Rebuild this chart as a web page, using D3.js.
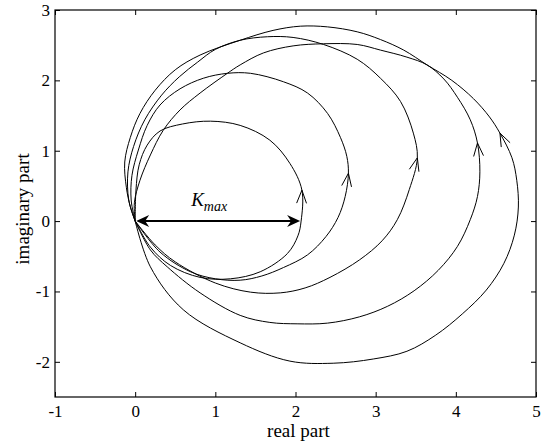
<!DOCTYPE html>
<html>
<head>
<meta charset="utf-8">
<style>
body { margin: 0; background: #fff; }
svg { font-family: "Liberation Serif", "Times New Roman", serif; }
.curves path { fill: none; stroke: #000; stroke-width: 1; }
.tick line { stroke: #000; }
.tick text { font-family: "Liberation Serif", "Times New Roman", serif; font-size: 17px; fill: #000; }
</style>
</head>
<body>
<svg width="544" height="444"></svg>
<script src="https://cdn.jsdelivr.net/npm/d3@7"></script>
<script>
// loci in the complex plane, [real, imaginary]
var curveA = [[0,0],[0.19,-0.37],[0.44,-0.63],[0.81,-0.80],[1.19,-0.82],[1.56,-0.72],[1.90,-0.46],[2.03,-0.21],
  [2.07,0],[2.08,0.44],[1.93,0.82],[1.68,1.15],[1.31,1.36],[0.94,1.42],[0.59,1.38],[0.31,1.28],[0.15,1.08],
  [0.05,0.80],[0.01,0.44],[0,0]];
var curveB = [[0,0],[0.31,-0.44],[0.69,-0.72],[1.00,-0.82],[1.31,-0.84],[1.58,-0.78],[1.85,-0.66],[2.15,-0.48],
  [2.38,-0.22],[2.53,0.05],[2.62,0.35],[2.66,0.68],[2.64,0.92],[2.56,1.19],[2.40,1.53],[2.15,1.82],[1.85,1.98],
  [1.44,2.10],[1.15,2.10],[0.85,2.03],[0.56,1.88],[0.31,1.65],[0.15,1.36],[0.04,1.01],[-0.04,0.65],[-0.05,0.30],[0,0]];
var curveC = [[0,0],[0.25,-0.34],[0.50,-0.58],[1.00,-0.88],[1.44,-1.01],[1.81,-1.02],[2.12,-0.95],[2.43,-0.80],
  [2.80,-0.55],[3.08,-0.28],[3.27,0.02],[3.42,0.45],[3.52,0.90],[3.47,1.25],[3.31,1.70],[3.06,2.03],[2.77,2.30],
  [2.35,2.51],[1.97,2.61],[1.65,2.62],[1.31,2.57],[1.00,2.44],[0.78,2.26],[0.55,2.05],[0.33,1.79],[0.12,1.44],
  [-0.02,1.06],[-0.09,0.70],[-0.08,0.30],[0,0]];
var curveD = [[0,0],[0.19,-0.41],[0.40,-0.65],[0.81,-1.02],[1.31,-1.34],[1.68,-1.44],[2.02,-1.46],[2.40,-1.45],
  [2.80,-1.36],[3.15,-1.21],[3.48,-0.99],[3.78,-0.70],[4.02,-0.36],[4.18,0.02],[4.27,0.35],[4.30,0.70],[4.27,1.11],
  [4.18,1.44],[4.02,1.76],[3.85,2.02],[3.64,2.22],[3.39,2.33],[3.06,2.43],[2.77,2.51],[2.35,2.52],[1.97,2.49],
  [1.60,2.39],[1.31,2.22],[1.15,2.10],[0.81,1.82],[0.56,1.58],[0.35,1.29],[0.19,0.94],[0.06,0.58],[-0.01,0.26],[0,0]];
var curveE = [[0,0],[0.19,-0.65],[0.60,-1.26],[1.31,-1.73],[1.93,-1.99],[2.47,-2.02],[2.97,-1.96],[3.39,-1.85],
  [3.75,-1.62],[4.08,-1.32],[4.38,-0.98],[4.60,-0.60],[4.73,-0.20],[4.78,0.20],[4.76,0.58],[4.70,0.90],[4.55,1.25],
  [4.42,1.48],[4.22,1.74],[3.95,2.00],[3.64,2.22],[3.35,2.43],[3.06,2.58],[2.77,2.69],[2.40,2.76],[2.06,2.77],
  [1.72,2.71],[1.31,2.57],[0.81,2.36],[0.50,2.15],[0.25,1.86],[0.06,1.53],[-0.06,1.19],[-0.13,0.84],[-0.11,0.48],
  [-0.06,0.20],[0,0]];

var curves = [curveA, curveB, curveC, curveD, curveE];
var arrowIndex = [9, 11, 12, 16, 16];   // vertex where the direction arrow sits

var kmax = 2.07;
var xTicks = [-1, 0, 1, 2, 3, 4, 5];
var yTicks = [-2, -1, 0, 1, 2, 3];

var svg = d3.select("svg"),
    margin = {top: 10, right: 8, bottom: 47, left: 55},
    width = +svg.attr("width") - margin.left - margin.right,
    height = +svg.attr("height") - margin.top - margin.bottom;

var x = d3.scaleLinear().domain([-1, 5]).range([0, width]);
var y = d3.scaleLinear().domain([-2.5, 3]).range([height, 0]);

var g = svg.append("g").attr("transform", "translate(" + margin.left + "," + margin.top + ")");

var fmt = function(d) { return String(d); };

g.append("g")
    .attr("transform", "translate(0," + height + ")")
    .call(d3.axisBottom(x).tickValues(xTicks).tickFormat(fmt).tickSizeInner(-5).tickSizeOuter(0).tickPadding(8));
g.append("g")
    .call(d3.axisTop(x).tickValues(xTicks).tickFormat("").tickSizeInner(-5).tickSizeOuter(0));
g.append("g")
    .call(d3.axisLeft(y).tickValues(yTicks).tickFormat(fmt).tickSizeInner(-5).tickSizeOuter(0).tickPadding(5));
g.append("g")
    .attr("transform", "translate(" + width + ",0)")
    .call(d3.axisRight(y).tickValues(yTicks).tickFormat("").tickSizeInner(-5).tickSizeOuter(0));

g.selectAll(".domain").remove();

g.append("rect")
    .attr("width", width)
    .attr("height", height)
    .attr("fill", "none")
    .attr("stroke", "#000")
    .attr("stroke-width", 1.2);

var line = d3.line()
    .curve(d3.curveCatmullRom.alpha(0.5))
    .x(function(d) { return x(d[0]); })
    .y(function(d) { return y(d[1]); });

var cg = g.append("g").attr("class", "curves");

cg.selectAll("path.locus")
    .data(curves)
  .enter().append("path")
    .attr("class", "locus")
    .attr("d", line);

// open chevrons showing direction of travel
cg.selectAll("path.dir")
    .data(curves)
  .enter().append("path")
    .attr("class", "dir")
    .attr("d", function(c, i) {
      var k = arrowIndex[i],
          tx = x(c[k][0]), ty = y(c[k][1]),
          px = x(c[k-1][0]), py = y(c[k-1][1]),
          a = Math.atan2(ty - py, tx - px),
          len = 14, spread = 0.36;
      var p1 = [tx - len * Math.cos(a - spread), ty - len * Math.sin(a - spread)],
          p2 = [tx - len * Math.cos(a + spread), ty - len * Math.sin(a + spread)];
      return "M" + p1 + "L" + tx + "," + ty + "L" + p2;
    });

// K_max double arrow
var ax0 = x(0), ax1 = x(kmax), ay = y(0);
g.append("line")
    .attr("x1", ax0 + 6).attr("x2", ax1 - 6)
    .attr("y1", ay).attr("y2", ay)
    .attr("stroke", "#000")
    .attr("stroke-width", 2);

function head(tx, dir) {
  var L = 13, W = 6, N = 9;
  return "M" + tx + "," + ay +
    "L" + (tx + dir * L) + "," + (ay - W) +
    "L" + (tx + dir * N) + "," + ay +
    "L" + (tx + dir * L) + "," + (ay + W) + "Z";
}
g.append("path").attr("d", head(ax0 + 1, 1)).attr("fill", "#000");
g.append("path").attr("d", head(ax1 - 1, -1)).attr("fill", "#000");

var lab = g.append("text")
    .attr("x", x(kmax / 2) - 9)
    .attr("y", ay - 15)
    .attr("font-style", "italic")
    .attr("font-size", 19)
    .attr("text-anchor", "middle");
lab.append("tspan").text("K");
lab.append("tspan").attr("font-size", 14).attr("dy", 5).text("max");

svg.append("text")
    .attr("x", margin.left + width / 2 + 3)
    .attr("y", 437)
    .attr("text-anchor", "middle")
    .attr("font-size", 19)
    .text("real part");

svg.append("text")
    .attr("transform", "translate(29,209) rotate(-90)")
    .attr("text-anchor", "middle")
    .attr("font-size", 19)
    .text("imaginary part");
</script>
</body>
</html>
